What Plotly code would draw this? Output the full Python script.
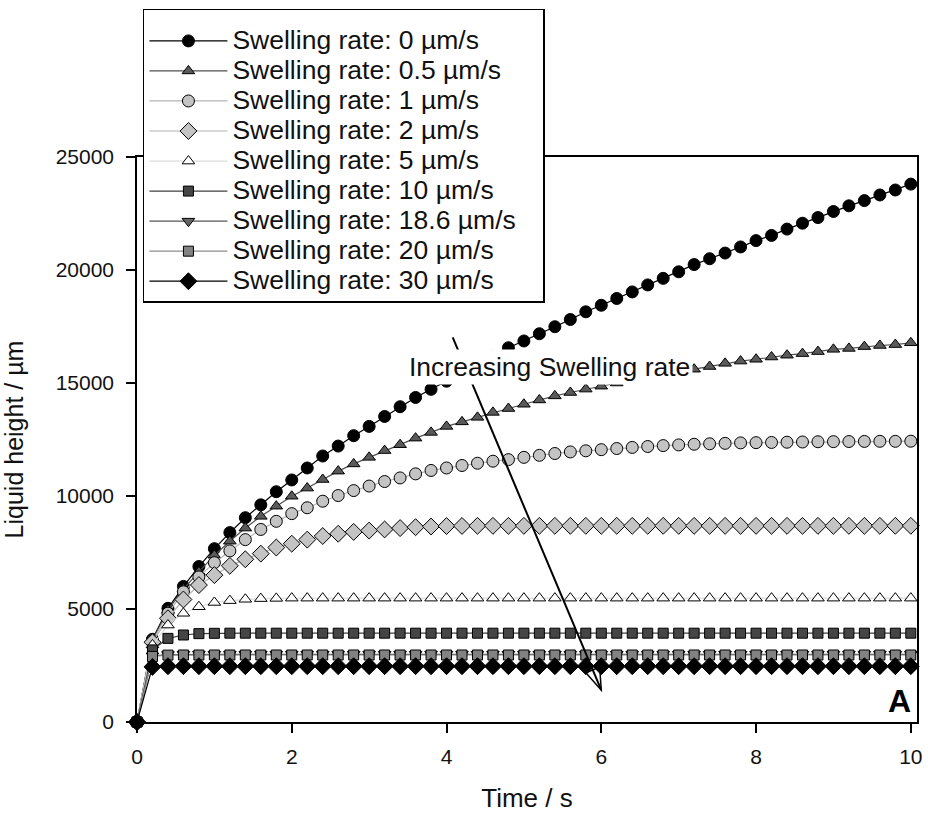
import plotly.graph_objects as go

time_s = [0, 0.2, 0.4, 0.6, 0.8, 1.0, 1.2, 1.4, 1.6, 1.8, 2.0, 2.2, 2.4, 2.6, 2.8, 3.0, 3.2, 3.4, 3.6, 3.8,
          4.0, 4.2, 4.4, 4.6, 4.8, 5.0, 5.2, 5.4, 5.6, 5.8, 6.0, 6.2, 6.4, 6.6, 6.8, 7.0, 7.2, 7.4, 7.6, 7.8,
          8.0, 8.2, 8.4, 8.6, 8.8, 9.0, 9.2, 9.4, 9.6, 9.8, 10.0]

rate_0 = [0, 3660, 5030, 6000, 6880, 7670, 8380, 9040, 9610, 10190, 10710, 11240, 11770, 12210, 12670,
          13080, 13520, 13950, 14360, 14720, 15080, 15440, 15800, 16180, 16560, 16860, 17180, 17490,
          17810, 18150, 18440, 18740, 19030, 19340, 19630, 19920, 20240, 20500, 20750, 21020, 21300,
          21530, 21810, 22070, 22320, 22590, 22840, 23070, 23320, 23540, 23800]
rate_0_5 = [0, 3620, 4950, 5880, 6640, 7380, 8000, 8580, 9100, 9550, 9990, 10350, 10730, 11100, 11420,
            11710, 12010, 12270, 12560, 12815, 13080, 13280, 13480, 13700, 13870, 14060, 14250, 14430,
            14580, 14730, 14860, 15000, 15130, 15260, 15380, 15500, 15610, 15730, 15870, 15970, 16050,
            16150, 16230, 16300, 16390, 16490, 16530, 16610, 16660, 16700, 16780]
rate_1 = [0, 3580, 4810, 5760, 6420, 7050, 7570, 8070, 8520, 8880, 9220, 9480, 9770, 10020, 10240,
          10440, 10640, 10800, 10980, 11130, 11240, 11350, 11450, 11540, 11610, 11710, 11800, 11880,
          11950, 12000, 12050, 12100, 12150, 12190, 12230, 12260, 12290, 12310, 12330, 12350, 12360,
          12370, 12380, 12390, 12400, 12405, 12410, 12415, 12420, 12420, 12425]
rate_2 = [0, 3530, 4590, 5420, 6060, 6500, 6910, 7200, 7450, 7720, 7890, 8070, 8230, 8330, 8410,
          8470, 8520, 8580, 8620, 8650, 8670, 8675, 8680, 8680, 8680, 8680, 8680, 8680, 8680, 8680,
          8680, 8680, 8680, 8680, 8680, 8680, 8680, 8680, 8680, 8680, 8680, 8680, 8680, 8680, 8680,
          8680, 8680, 8680, 8680, 8680, 8680]
rate_5 = [0, 3410, 4290, 4810, 5100, 5290, 5370, 5430, 5460, 5470, 5480, 5480, 5480, 5480, 5480,
          5480, 5480, 5480, 5480, 5480, 5480, 5480, 5480, 5480, 5480, 5480, 5480, 5480, 5480, 5480,
          5480, 5480, 5480, 5480, 5480, 5480, 5480, 5480, 5480, 5480, 5480, 5480, 5480, 5480, 5480,
          5480, 5480, 5480, 5480, 5480, 5480]
rate_10 = [0, 3190, 3700, 3850, 3910, 3925, 3930, 3930, 3930, 3930, 3930, 3930, 3930, 3930, 3930,
           3930, 3930, 3930, 3930, 3930, 3930, 3930, 3930, 3930, 3930, 3930, 3930, 3930, 3930, 3930,
           3930, 3930, 3930, 3930, 3930, 3930, 3930, 3930, 3930, 3930, 3930, 3930, 3930, 3930, 3930,
           3930, 3930, 3930, 3930, 3930, 3930]
rate_18_6 = [0, 2930, 2985, 2995, 2995, 2995, 2995, 2995, 2995, 2995, 2995, 2995, 2995, 2995, 2995,
             2995, 2995, 2995, 2995, 2995, 2995, 2995, 2995, 2995, 2995, 2995, 2995, 2995, 2995, 2995,
             2995, 2995, 2995, 2995, 2995, 2995, 2995, 2995, 2995, 2995, 2995, 2995, 2995, 2995, 2995,
             2995, 2995, 2995, 2995, 2995, 2995]
rate_20 = [0, 2900, 2960, 2965, 2965, 2965, 2965, 2965, 2965, 2965, 2965, 2965, 2965, 2965, 2965,
           2965, 2965, 2965, 2965, 2965, 2965, 2965, 2965, 2965, 2965, 2965, 2965, 2965, 2965, 2965,
           2965, 2965, 2965, 2965, 2965, 2965, 2965, 2965, 2965, 2965, 2965, 2965, 2965, 2965, 2965,
           2965, 2965, 2965, 2965, 2965, 2965]
rate_30 = [0, 2440, 2470, 2470, 2470, 2470, 2470, 2470, 2470, 2470, 2470, 2470, 2470, 2470, 2470,
           2470, 2470, 2470, 2470, 2470, 2470, 2470, 2470, 2470, 2470, 2470, 2470, 2470, 2470, 2470,
           2470, 2470, 2470, 2470, 2470, 2470, 2470, 2470, 2470, 2470, 2470, 2470, 2470, 2470, 2470,
           2470, 2470, 2470, 2470, 2470, 2470]

series_names = ["Swelling rate: 0 µm/s", "Swelling rate: 0.5 µm/s", "Swelling rate: 1 µm/s",
                "Swelling rate: 2 µm/s", "Swelling rate: 5 µm/s", "Swelling rate: 10 µm/s",
                "Swelling rate: 18.6 µm/s", "Swelling rate: 20 µm/s", "Swelling rate: 30 µm/s"]
series_values = [rate_0, rate_0_5, rate_1, rate_2, rate_5, rate_10, rate_18_6, rate_20, rate_30]

x_tick_vals = [0, 2, 4, 6, 8, 10]
x_tick_text = ["0", "2", "4", "6", "8", "10"]
y_tick_vals = [0, 5000, 10000, 15000, 20000, 25000]
y_tick_text = ["0", "5000", "10000", "15000", "20000", "25000"]

styles = [
    dict(symbol="circle", mcolor="#000000", lcolor="#000000", size=12),
    dict(symbol="triangle-up", mcolor="#5a5a5a", lcolor="#505050", size=11),
    dict(symbol="circle", mcolor="#c4c4c4", lcolor="#b4b4b4", size=12),
    dict(symbol="diamond", mcolor="#c4c4c4", lcolor="#b4b4b4", size=13),
    dict(symbol="triangle-up", mcolor="#ffffff", lcolor="#dcdcdc", size=11),
    dict(symbol="square", mcolor="#454545", lcolor="#404040", size=10),
    dict(symbol="triangle-down", mcolor="#666666", lcolor="#555555", size=11),
    dict(symbol="square", mcolor="#828282", lcolor="#8c8c8c", size=10),
    dict(symbol="diamond", mcolor="#000000", lcolor="#000000", size=13),
]

FONT = "Liberation Sans, Arial, sans-serif"

fig = go.Figure()
for name, vals, st in zip(series_names, series_values, styles):
    fig.add_trace(go.Scatter(
        x=time_s, y=vals, name=f'<span style="font-size:26.5px">{name}&nbsp;&nbsp;&nbsp;</span>',
        mode="lines+markers", cliponaxis=False,
        line=dict(color=st["lcolor"], width=1.2),
        marker=dict(symbol=st["symbol"], size=st["size"], color=st["mcolor"],
                    line=dict(color="#000000", width=1)),
    ))

X_RANGE = [0, 10.08]
Y_RANGE = [0, 25000]
L, R, T, B = 137, 6, 157, 90
W, H = 928, 814
plot_w = W - L - R
plot_h = H - T - B

# Arrow in data coordinates
arrow_tail = (4.08, 17020)
arrow_tip = (6.0, 1410)
px_x = plot_w / (X_RANGE[1] - X_RANGE[0])
px_y = plot_h / (Y_RANGE[1] - Y_RANGE[0])
dxp = (arrow_tip[0] - arrow_tail[0]) * px_x
dyp = (arrow_tip[1] - arrow_tail[1]) * px_y
ln = (dxp ** 2 + dyp ** 2) ** 0.5
ux, uy = dxp / ln, dyp / ln
head_len, head_half = 22, 7.5
bx, by = -head_len * ux, -head_len * uy
c1 = (bx + head_half * (-uy), by + head_half * ux)
c2 = (bx - head_half * (-uy), by - head_half * ux)
def to_data(p):
    return (arrow_tip[0] + p[0] / px_x, arrow_tip[1] + p[1] / px_y)
d1, d2 = to_data(c1), to_data(c2)

fig.add_shape(type="line", x0=arrow_tail[0], y0=arrow_tail[1], x1=arrow_tip[0], y1=arrow_tip[1],
              xref="x", yref="y", line=dict(color="black", width=2))
fig.add_shape(type="path", xref="x", yref="y",
              path=f"M {arrow_tip[0]},{arrow_tip[1]} L {d1[0]},{d1[1]} L {d2[0]},{d2[1]} Z",
              line=dict(color="black", width=1.5), fillcolor="rgba(0,0,0,0)")

fig.add_annotation(x=5.33, y=15697, xref="x", yref="y", text="Increasing Swelling rate",
                   showarrow=False, bgcolor="white", borderpad=2,
                   font=dict(family=FONT, size=26.5, color="#111111"))
fig.add_annotation(x=0.995, y=0.037, xref="paper", yref="paper", text="<b>A</b>",
                   showarrow=False, xanchor="right", yanchor="middle",
                   font=dict(family=FONT, size=32, color="black"))

fig.update_layout(
    width=W, height=H,
    margin=dict(l=L, r=R, t=T, b=B),
    paper_bgcolor="white", plot_bgcolor="white",
    font=dict(family=FONT, color="#111111"),
    showlegend=True,
    legend=dict(x=0.0076, y=1.262, xanchor="left", yanchor="top",
                bgcolor="white", bordercolor="black", borderwidth=1.5,
                font=dict(family=FONT, size=20.8, color="#111111"),
                title=dict(text=" ", font=dict(family=FONT, size=8)),
                itemwidth=78, tracegroupgap=0),
    xaxis=dict(range=X_RANGE, tickvals=x_tick_vals, ticktext=x_tick_text, showgrid=False, zeroline=False,
               showline=True, linecolor="black", linewidth=1.5, mirror=True,
               ticks="outside", ticklen=9, tickwidth=1.5, tickcolor="black",
               ticklabelstandoff=6,
               tickfont=dict(family=FONT, size=21, color="#111111"),
               title=dict(text="Time / s", font=dict(family=FONT, size=26, color="#111111"), standoff=22)),
    yaxis=dict(range=Y_RANGE, tickvals=y_tick_vals, ticktext=y_tick_text, showgrid=False, zeroline=False,
               showline=True, linecolor="black", linewidth=1.5, mirror=True,
               ticks="outside", ticklen=9, tickwidth=1.5, tickcolor="black",
               ticklabelstandoff=8,
               tickfont=dict(family=FONT, size=21, color="#111111"),
               title=dict(text="Liquid height / µm", font=dict(family=FONT, size=25, color="#111111"), standoff=27)),
)

fig.write_html("out.html")
